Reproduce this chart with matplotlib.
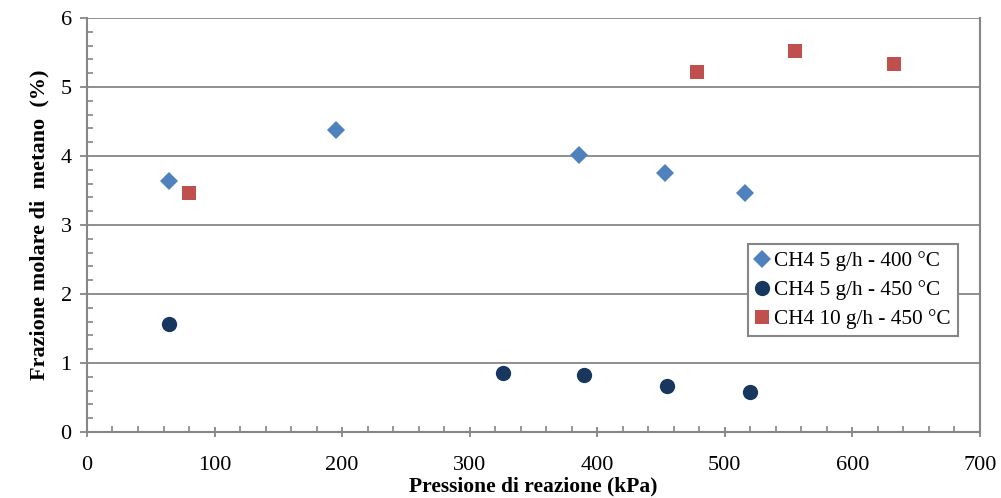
import matplotlib
matplotlib.use("Agg")
import matplotlib.pyplot as plt
from matplotlib.ticker import MultipleLocator

# data
p_400_5 = [64, 195, 386, 453, 516]
ch4_400_5 = [3.64, 4.38, 4.01, 3.75, 3.47]

p_450_5 = [64, 326, 390, 455, 520]
ch4_450_5 = [1.56, 0.85, 0.82, 0.66, 0.58]

p_450_10 = [80, 478, 555, 633]
ch4_450_10 = [3.47, 5.21, 5.52, 5.34]

labels = ["CH4 5 g/h - 400 °C", "CH4 5 g/h - 450 °C", "CH4 10 g/h - 450 °C"]

plt.rcParams['font.family'] = ['Liberation Serif', 'DejaVu Serif']

fig = plt.figure(figsize=(10.01, 4.98), dpi=100)
ax = fig.add_axes([0.0869, 0.1325, 0.892, 0.8314])

gray = '#868686'

ax.plot(p_400_5, ch4_400_5, 'D', color='#4F81BD', markersize=9, markeredgewidth=0, label=labels[0])
ax.plot(p_450_5, ch4_450_5, 'o', color='#17375E', markersize=11, markeredgewidth=0, label=labels[1])
ax.plot(p_450_10, ch4_450_10, 's', color='#C0504D', markersize=10.5, markeredgewidth=0, label=labels[2])

ax.set_xlim(0, 700)
ax.set_ylim(0, 6)
ax.xaxis.set_major_locator(MultipleLocator(100))
ax.xaxis.set_minor_locator(MultipleLocator(20))
ax.yaxis.set_major_locator(MultipleLocator(1))
ax.yaxis.set_minor_locator(MultipleLocator(0.2))

ax.grid(axis='y', which='major', color=gray, linewidth=1.3)
ax.set_axisbelow(True)

for side in ['left', 'bottom', 'right']:
    ax.spines[side].set_color(gray)
    ax.spines[side].set_linewidth(1.5)
ax.spines['top'].set_visible(False)

ax.tick_params(axis='x', which='major', direction='inout', length=7, width=1.3, color=gray,
               labelsize=16, pad=14)
ax.tick_params(axis='y', which='major', direction='out', length=5, width=1.3, color=gray,
               labelsize=16, pad=6)
ax.tick_params(which='minor', direction='in', length=4, width=1.2, color=gray)
ax.tick_params(axis='y', which='minor', right=False)

ax.set_xlabel('Pressione di reazione (kPa)', fontsize=15.5, fontweight='bold', labelpad=0.5)
ax.set_ylabel('Frazione molare di  metano  (%)', fontsize=16, fontweight='bold', labelpad=8)

leg = ax.legend(loc='upper right', bbox_to_anchor=(0.976, 0.454), fontsize=15.3,
                frameon=True, fancybox=False, edgecolor=gray, framealpha=1,
                handlelength=0.6, handletextpad=0.3, borderpad=0.35, labelspacing=0.42,
                borderaxespad=0)
leg.get_frame().set_linewidth(1.5)

fig.savefig('out.png', dpi=100)
